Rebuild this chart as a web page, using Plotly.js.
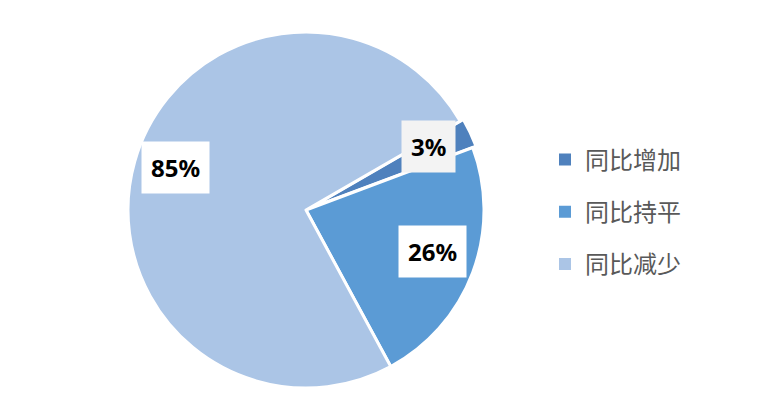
<!DOCTYPE html>
<html>
<head>
<meta charset="utf-8">
<script src="https://cdn.plot.ly/plotly-3.0.1.min.js"></script>
<style>html,body{margin:0;padding:0;background:#fff;}#chart{width:776px;height:418px;}</style>
</head>
<body>
<div id="chart"></div>
<script>
const labels = ['同比增加', '同比持平', '同比减少'];
const values = [3, 26, 85];
const valueTexts = ['3%', '26%', '85%'];
const colors = ['#4f81bd', '#5b9bd5', '#abc5e6'];

const W = 776, H = 418;
const CX = 306, CY = 210, R = 178;
const PULL = [0.02, 0, 0];
const ROT = 60;
const Rd = R * (1 + Math.max.apply(null, PULL));

const pie = {
  type: 'pie',
  labels: labels,
  values: values,
  sort: false,
  direction: 'clockwise',
  rotation: ROT,
  pull: PULL,
  textinfo: 'none',
  hoverinfo: 'label+value',
  showlegend: false,
  marker: {colors: colors, line: {color: '#ffffff', width: 3}},
  domain: {x: [(CX - Rd) / W, (CX + Rd) / W], y: [1 - (CY + Rd) / H, 1 - (CY - Rd) / H]}
};

const legendTraces = labels.map((lab, i) => ({
  type: 'scatter', mode: 'markers', x: [null], y: [null],
  name: lab, legendgroup: 'g' + i, hoverinfo: 'skip',
  marker: {symbol: 'square', size: 12, color: colors[i]}
}));

const total = values.reduce((a, b) => a + b, 0);
let cum = 0;
const annotations = values.map((v, i) => {
  const mid = (ROT + (cum + v / 2) / total * 360) * Math.PI / 180;
  cum += v;
  const rr = R * 0.76;
  const px = CX + rr * Math.sin(mid);
  const py = CY - rr * Math.cos(mid) - 6;
  return {
    xref: 'paper', yref: 'paper', x: px / W, y: 1 - py / H,
    xanchor: 'center', yanchor: 'middle', showarrow: false,
    text: '<b>' + valueTexts[i] + '</b>',
    font: {family: 'Noto Sans, Open Sans, sans-serif', size: 24, color: '#000000'},
    bgcolor: i === 0 ? '#f3f3f3' : '#ffffff', borderpad: 9
  };
});

const layout = {
  width: W, height: H,
  margin: {l: 0, r: 0, t: 0, b: 0},
  paper_bgcolor: '#ffffff', plot_bgcolor: 'rgba(0,0,0,0)',
  xaxis: {visible: false}, yaxis: {visible: false},
  showlegend: true,
  legend: {
    x: 545 / W, y: 1 - 212 / H, xanchor: 'left', yanchor: 'middle',
    font: {family: 'Noto Sans CJK SC, sans-serif', size: 24, color: '#595959'},
    tracegroupgap: 18, bgcolor: 'rgba(0,0,0,0)'
  },
  annotations: annotations
};

Plotly.newPlot('chart', [pie].concat(legendTraces), layout, {displayModeBar: false, staticPlot: true});
</script>
</body>
</html>
